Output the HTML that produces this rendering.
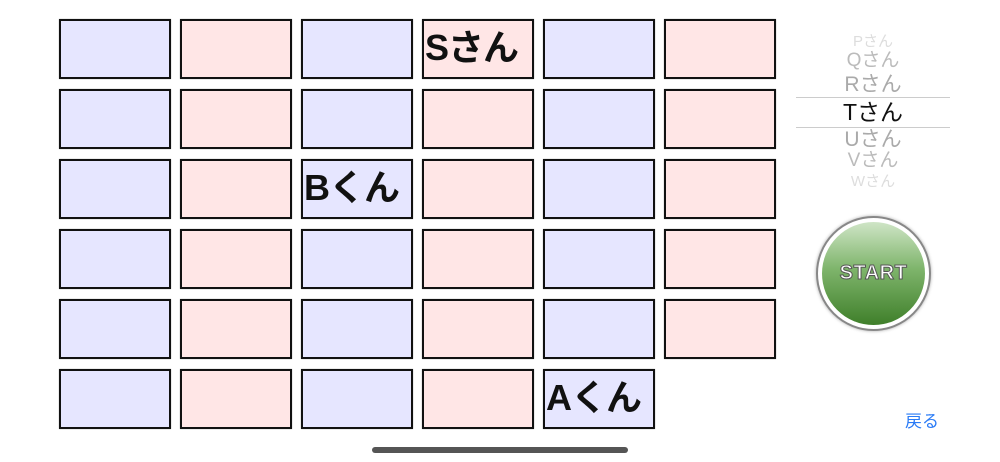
<!DOCTYPE html>
<html><head><meta charset="utf-8"><style>
body{margin:0;width:1000px;height:462px;background:#fff;position:relative;overflow:hidden;font-family:"Liberation Sans","Noto Sans CJK JP",sans-serif}
.b{position:absolute;width:112px;height:60px;box-sizing:border-box;border:2px solid #111;box-shadow:0 0 1px #999}
.bl{background:#e6e6ff}.pk{background:#ffe6e6}
.t{font-size:36px;font-weight:bold;line-height:54px;padding-left:1px;color:#111;white-space:nowrap;letter-spacing:-1px;overflow:visible}
.p{position:absolute;left:796px;width:154px;text-align:center;color:#aaa;white-space:nowrap}
</style></head><body>
<div class="b bl" style="left:59px;top:19px"></div><div class="b pk" style="left:180px;top:19px"></div><div class="b bl" style="left:301px;top:19px"></div><div class="b pk t" style="left:422px;top:19px">Sさん</div><div class="b bl" style="left:543px;top:19px"></div><div class="b pk" style="left:664px;top:19px"></div>
<div class="b bl" style="left:59px;top:89px"></div><div class="b pk" style="left:180px;top:89px"></div><div class="b bl" style="left:301px;top:89px"></div><div class="b pk" style="left:422px;top:89px"></div><div class="b bl" style="left:543px;top:89px"></div><div class="b pk" style="left:664px;top:89px"></div>
<div class="b bl" style="left:59px;top:159px"></div><div class="b pk" style="left:180px;top:159px"></div><div class="b bl t" style="left:301px;top:159px">Bくん</div><div class="b pk" style="left:422px;top:159px"></div><div class="b bl" style="left:543px;top:159px"></div><div class="b pk" style="left:664px;top:159px"></div>
<div class="b bl" style="left:59px;top:229px"></div><div class="b pk" style="left:180px;top:229px"></div><div class="b bl" style="left:301px;top:229px"></div><div class="b pk" style="left:422px;top:229px"></div><div class="b bl" style="left:543px;top:229px"></div><div class="b pk" style="left:664px;top:229px"></div>
<div class="b bl" style="left:59px;top:299px"></div><div class="b pk" style="left:180px;top:299px"></div><div class="b bl" style="left:301px;top:299px"></div><div class="b pk" style="left:422px;top:299px"></div><div class="b bl" style="left:543px;top:299px"></div><div class="b pk" style="left:664px;top:299px"></div>
<div class="b bl" style="left:59px;top:369px"></div><div class="b pk" style="left:180px;top:369px"></div><div class="b bl" style="left:301px;top:369px"></div><div class="b pk" style="left:422px;top:369px"></div><div class="b bl t" style="left:543px;top:369px">Aくん</div>

<div class="p" style="top:34px;font-size:15px;color:#ddd;line-height:16px">Pさん</div>
<div class="p" style="top:51px;font-size:19px;color:#bbb;line-height:20px">Qさん</div>
<div class="p" style="top:74px;font-size:21px;line-height:22px">Rさん</div>
<div style="position:absolute;left:796px;top:97px;width:154px;height:0;border-top:1px solid #ccc"></div>
<div class="p" style="top:99px;font-size:23px;color:#111;line-height:26px">Tさん</div>
<div style="position:absolute;left:796px;top:127px;width:154px;height:0;border-top:1px solid #ccc"></div>
<div class="p" style="top:129px;font-size:21px;line-height:22px">Uさん</div>
<div class="p" style="top:151px;font-size:19px;color:#bbb;line-height:20px">Vさん</div>
<div class="p" style="top:174px;font-size:15px;color:#ddd;line-height:16px">Wさん</div>

<div style="position:absolute;left:816px;top:216px;width:115px;height:115px;border-radius:50%;background:#fff;border:2px solid #888;box-sizing:border-box;box-shadow:0 0 3px #aaa"></div>
<div style="position:absolute;left:822px;top:222px;width:103px;height:103px;border-radius:50%;background:linear-gradient(#cfe5c6,#7fb56c 45%,#3f7f2a);display:flex;align-items:center;justify-content:center;color:#fff;font-weight:bold;font-size:20px;-webkit-text-stroke:1px #555;letter-spacing:0.5px">START</div>

<div style="position:absolute;left:905px;top:407px;font-size:17px;color:#2a7bf6">戻る</div>
<div style="position:absolute;left:372px;top:447px;width:256px;height:6px;border-radius:3px;background:#555"></div>
</body></html>
